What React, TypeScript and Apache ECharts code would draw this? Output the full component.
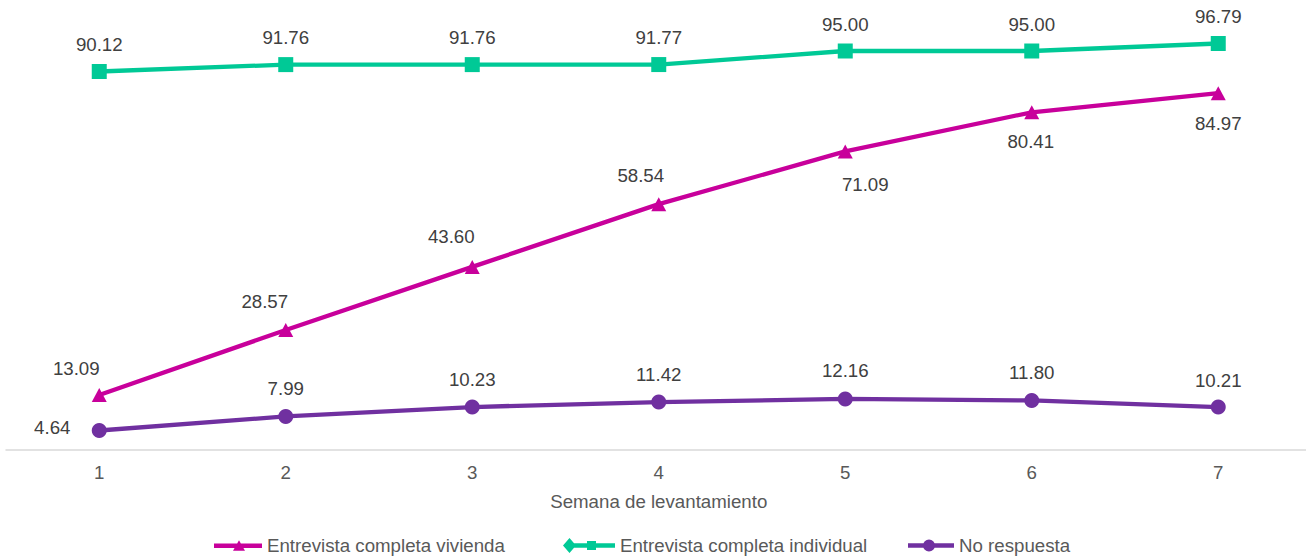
import React, { useEffect, useRef } from "react";
import * as echarts from "echarts";

const weeks = ["1", "2", "3", "4", "5", "6", "7"];
const vivienda = [13.09, 28.57, 43.6, 58.54, 71.09, 80.41, 84.97];
const individual = [90.12, 91.76, 91.76, 91.77, 95.0, 95.0, 96.79];
const noRespuesta = [4.64, 7.99, 10.23, 11.42, 12.16, 11.8, 10.21];

const seriesNames = [
  "Entrevista completa vivienda",
  "Entrevista completa individual",
  "No respuesta",
];
const xAxisTitle = "Semana de levantamiento";

const FONT = "Arial, 'Liberation Sans', sans-serif";
const FS = 18.7;
const COLORS = ["#C8009B", "#00C996", "#7030A0"];

// label offsets (style, not data)
const viviendaOffsets = [
  [-23, -27],
  [-21, -28.5],
  [-21, -30.5],
  [-18, -29],
  [20, 33],
  [-1, 29],
  [0, 30],
];
const noRespOffsets = [
  [-47, -3],
  [0, -28],
  [0, -28],
  [0, -28],
  [0, -28],
  [0, -28],
  [0, -27],
];

const ICON_VIV = "path://M0 5.7 H48 V10.3 H0 Z M19 13 L25 2.5 L31 13 Z";
const ICON_IND =
  "path://M6.5 0 L13 7.5 L6.5 15 L0 7.5 Z M10 5.2 H52 V9.8 H10 Z M24 3 H33 V12 H24 Z";
const ICON_NR =
  "path://M0 5.7 H46 V10.3 H0 Z M15 8 A6 6 0 1 1 27 8 A6 6 0 1 1 15 8 Z";

const fmt = (p: any) => Number(p.value).toFixed(2);

export default function App() {
  const ref = useRef<HTMLDivElement>(null);
  useEffect(() => {
    if (!ref.current) return;
    const chart = echarts.init(ref.current, null, { renderer: "svg" });
    const labelBase = {
      show: true,
      position: "inside",
      color: "#404040",
      fontSize: FS,
      fontFamily: FONT,
      formatter: fmt,
    };
    const legendText = { color: "#595959", fontSize: FS, fontFamily: FONT };
    chart.setOption({
      animation: false,
      backgroundColor: "#ffffff",
      grid: { left: 6, top: 30, right: 0.5, height: 420, containLabel: false },
      xAxis: {
        type: "category",
        data: weeks,
        boundaryGap: true,
        axisLine: { show: true, lineStyle: { color: "#D9D9D9", width: 1.5 } },
        axisTick: { show: false },
        axisLabel: { color: "#595959", fontSize: FS, fontFamily: FONT, margin: 13 },
        name: xAxisTitle,
        nameLocation: "middle",
        nameGap: 42,
        nameTextStyle: { color: "#595959", fontSize: FS, fontFamily: FONT },
        splitLine: { show: false },
      },
      yAxis: {
        type: "value",
        min: 0,
        max: 100,
        show: false,
        splitLine: { show: false },
      },
      legend: [
        {
          left: 214,
          top: 536,
          padding: 0,
          itemWidth: 48,
          itemHeight: 16,
          textStyle: legendText,
          data: [{ name: seriesNames[0], icon: ICON_VIV }],
        },
        {
          left: 563,
          top: 536,
          padding: 0,
          itemWidth: 52,
          itemHeight: 16,
          textStyle: legendText,
          data: [{ name: seriesNames[1], icon: ICON_IND }],
        },
        {
          left: 908,
          top: 536,
          padding: 0,
          itemWidth: 46,
          itemHeight: 16,
          textStyle: legendText,
          data: [{ name: seriesNames[2], icon: ICON_NR }],
        },
      ],
      series: [
        {
          name: seriesNames[0],
          type: "line",
          data: vivienda.map((v, i) => ({
            value: v,
            label: { offset: viviendaOffsets[i] },
          })),
          color: COLORS[0],
          lineStyle: { width: 4.3, color: COLORS[0] },
          itemStyle: { color: COLORS[0] },
          symbol: "triangle",
          symbolSize: [15, 14],
          label: { ...labelBase },
          z: 3,
        },
        {
          name: seriesNames[1],
          type: "line",
          data: individual,
          color: COLORS[1],
          lineStyle: { width: 4.3, color: COLORS[1] },
          itemStyle: { color: COLORS[1] },
          symbol: "rect",
          symbolSize: 15,
          label: { ...labelBase, offset: [0, -27] },
          z: 2,
        },
        {
          name: seriesNames[2],
          type: "line",
          data: noRespuesta.map((v, i) => ({
            value: v,
            label: { offset: noRespOffsets[i] },
          })),
          color: COLORS[2],
          lineStyle: { width: 4.3, color: COLORS[2] },
          itemStyle: { color: COLORS[2] },
          symbol: "circle",
          symbolSize: 15,
          label: { ...labelBase },
          z: 4,
        },
      ],
    });
    return () => chart.dispose();
  }, []);
  return (
    <div
      style={{
        position: "fixed",
        left: 0,
        top: 0,
        width: 1306,
        height: 556,
        overflow: "hidden",
        background: "#fff",
      }}
    >
      <div ref={ref} style={{ width: 1312, height: 556 }} />
    </div>
  );
}
